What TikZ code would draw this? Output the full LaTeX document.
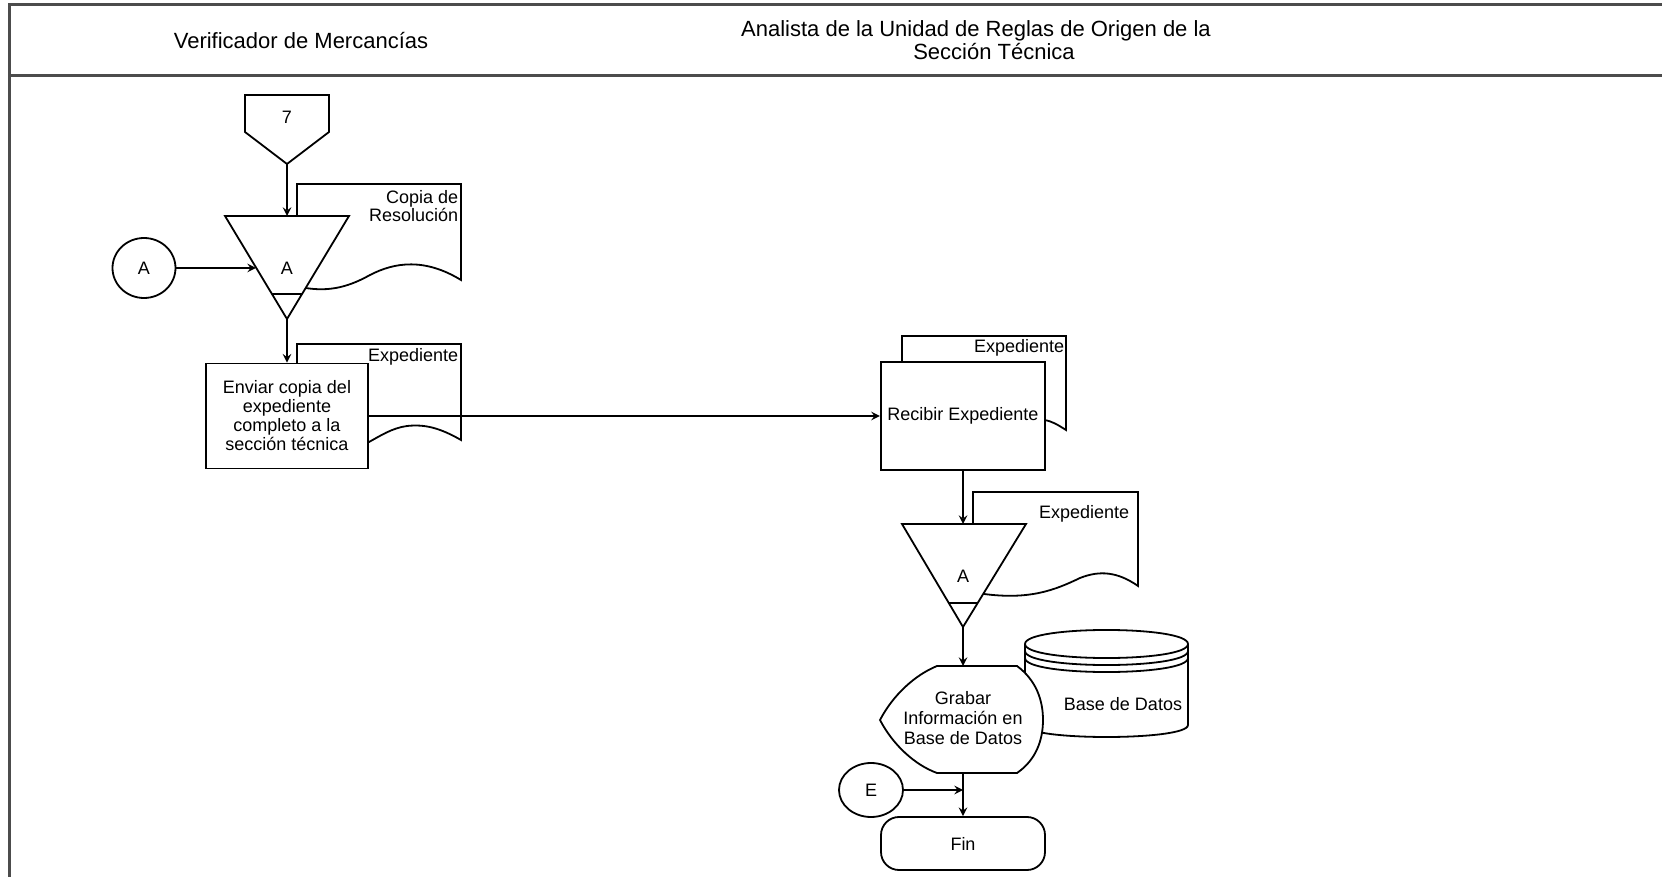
\documentclass[tikz,border=0pt]{standalone}
\usepackage{fontspec}
\setmainfont{Liberation Sans}
\usetikzlibrary{shapes.geometric}
\begin{document}
\begin{tikzpicture}[>=stealth, x=0.5pt, y=-0.5pt, line width=0.9pt,
        lane/.style={line width=1.5pt, draw=black!70},
        head/.style={font=\fontsize{11}{10.5}\selectfont, align=center},
        lbl/.style={font=\fontsize{9}{9.5}\selectfont, align=center, inner sep=0pt},
        doclbl/.style={font=\fontsize{9}{9}\selectfont, align=right, anchor=north east, inner sep=0pt},
        paper/.style={draw, fill=white},
        task/.style={draw, fill=white, rectangle, align=center, font=\fontsize{9}{9.5}\selectfont},
        link/.style={draw, fill=white, ellipse, inner sep=0pt, font=\fontsize{9}{9}\selectfont}]
    \useasboundingbox (0,0) rectangle (1662,877);
    % lanes
    \draw[lane] (1662,5) -- (9,5) -- (9,877);
    \draw[lane] (9,76) -- (1662,76);
    \node[head] (H1) at (301,41) {Verificador de Mercancías};
    \node[head] (H2) at (976,31) {Analista de la Unidad de Reglas de Origen de la};
    \node[head] (H3) at (994,52) {Sección Técnica};
    % connector 7
    \draw[paper] (245,95) -- (329,95) -- (329,132) -- (287,164) -- (245,132) -- cycle;
    \node[lbl] (P7) at (287,117) {7};
    \coordinate (P7s) at (287,164);
    % first store
    \draw[paper] (297,216) -- (297,184) -- (461,184) -- (461,280) .. controls (425,258) and (395,262) .. (370,275) .. controls (345,289) and (325,292) .. (300,287) -- cycle;
    \node[doclbl] (D1) at (459,190) {Copia de\\Resolución};
    \draw[paper] (225,216) -- (349,216) -- (287,319) -- cycle;
    \draw (272,294) -- (302,294);
    \node[lbl] (M1) at (287,268) {A};
    \coordinate (M1n) at (287,216);
    \coordinate (M1w) at (256,268);
    \coordinate (M1s) at (287,319);
    \node[link, minimum width=31.5pt, minimum height=30pt] (CA) at (144,268) {A};
    % send
    \draw[paper] (297,363) -- (297,344) -- (461,344) -- (461,440) .. controls (440,428) and (425,424) .. (407,426) .. controls (392,428) and (380,436) .. (369,442) -- (300,442) -- cycle;
    \node[doclbl] (D2) at (459,348) {Expediente};
    \node[task, minimum width=81pt, minimum height=52.5pt] (S1) at (287,416) {Enviar copia del\\expediente\\completo a la\\sección técnica};
    % receive
    \draw[paper] (902,362) -- (902,336) -- (1066,336) -- (1066,430) .. controls (1058,425) and (1052,421) .. (1044,420) -- (1000,420) -- cycle;
    \node[doclbl] (D3) at (1065,339) {Expediente};
    \node[task, minimum width=82pt, minimum height=54pt] (R1) at (963,416) {Recibir Expediente};
    % second store
    \draw[paper] (973,524) -- (973,492) -- (1138,492) -- (1138,586) .. controls (1118,572) and (1100,570) .. (1080,578) .. controls (1055,590) and (1030,600) .. (984,594) -- cycle;
    \node[doclbl] (D4) at (1130,505) {Expediente};
    \draw[paper] (902,524) -- (1026,524) -- (963,627) -- cycle;
    \draw (949,603) -- (978,603);
    \node[lbl] (M2) at (963,576) {A};
    \coordinate (M2n) at (963,524);
    \coordinate (M2s) at (963,627);
    % data base
    \draw[paper] (1025,644) -- (1025,725) .. controls (1025,741) and (1188,741) .. (1188,725) -- (1188,644) .. controls (1188,625.3) and (1025,625.3) .. (1025,644) -- cycle;
    \foreach \dy in {0,7,14}
        \draw (1025,{644+\dy}) .. controls (1025,{662.7+\dy}) and (1188,{662.7+\dy}) .. (1188,{644+\dy});
    \node[lbl] (DB) at (1123,704) {Base de Datos};
    % record
    \draw[paper] (937,666) -- (1017,666) .. controls (1036,680) and (1043,700) .. (1043,720) .. controls (1043,740) and (1036,760) .. (1017,773) -- (937,773) .. controls (915,765) and (893,745) .. (880,720) .. controls (893,695) and (915,675) .. (937,666) -- cycle;
    \node[lbl, font=\fontsize{9}{10}\selectfont] (G1) at (963,718) {Grabar\\Información en\\Base de Datos};
    \coordinate (G1n) at (963,666);
    \coordinate (G1s) at (963,773);
    % end
    \node[link, minimum width=32pt, minimum height=27pt] (CE) at (871,790) {E};
    \coordinate (J1) at (963,790);
    \node[task, rounded corners=9pt, minimum width=82pt, minimum height=26.5pt] (F1) at (963,843.5) {Fin};
    % flow
    \draw[->] (P7s) -- (M1n);
    \draw[->] (CA) -- (M1w);
    \draw[->] (M1s) -- (S1);
    \draw[->] (S1) -- (R1);
    \draw[->] (R1) -- (M2n);
    \draw[->] (M2s) -- (G1n);
    \draw[->] (G1s) -- (F1);
    \draw[->] (CE) -- (J1);
\end{tikzpicture}
\end{document}
